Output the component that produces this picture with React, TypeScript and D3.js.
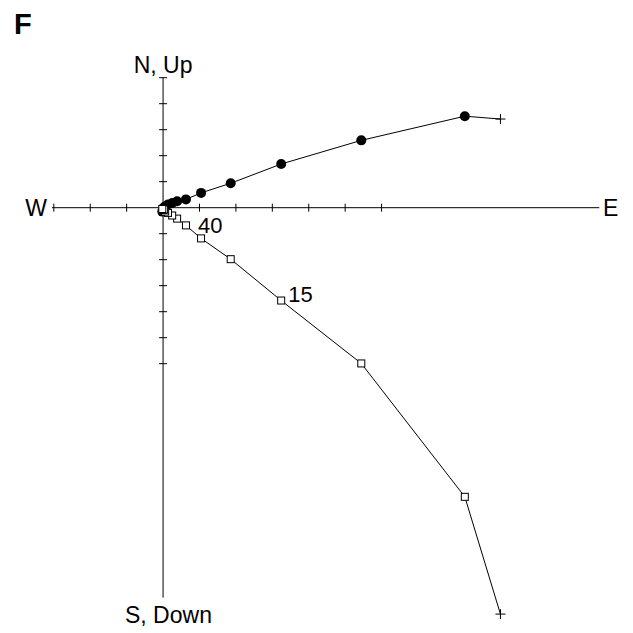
import React from "react";
import * as d3 from "d3";

// Demagnetization steps (arbitrary intensity units), first = NRM
const east = [12.97, 11.6, 7.62, 4.54, 2.6, 1.46, 0.88, 0.54, 0.35, 0.19, 0.08, 0.02, 0.04, -0.03];
const north = [3.41, 3.52, 2.59, 1.68, 0.94, 0.57, 0.32, 0.25, 0.18, 0.12, 0.05, 0.0, -0.1, -0.15];
const up = [-15.63, -11.12, -5.99, -3.57, -1.98, -1.18, -0.68, -0.42, -0.3, -0.2, -0.15, -0.09, -0.07, -0.05];
const stepLabels = [
  { index: 3, text: "15" },
  { index: 6, text: "40" },
];
const xTicks = [-4.2, -2.8, -1.4, 1.4, 2.8, 4.2, 5.6, 7.0, 8.4];
const yTicks = [5, 4, 3, 2, 1, -1, -2, -3, -4, -5, -6];
const xExtent = [-4.27, 16.77];
const yExtent = [5, -15];

export default function App() {
  const x = d3.scaleLinear().domain(xExtent).range([52, 599.3]);
  const y = d3.scaleLinear().domain(yExtent).range([77.7, 597.7]);
  const x0 = x(0);
  const y0 = y(0);
  const font = "'Liberation Sans', Arial, Helvetica, sans-serif";

  const hPts: [number, number][] = east.map((e, i) => [x(e), y(north[i])]);
  const vPts: [number, number][] = east.map((e, i) => [x(e), y(up[i])]);
  const line = d3.line();
  const cross = (p: [number, number], k: string) => (
    <path
      key={k}
      d={`M${p[0] - 5},${p[1]}H${p[0] + 5}M${p[0]},${p[1] - 5}V${p[1] + 5}`}
      stroke="#000"
      strokeWidth={1}
      fill="none"
    />
  );

  const labelOffsets: Record<string, [number, number]> = {
    "15": [7, 1],
    "40": [12, 8],
  };

  return (
    <svg
      width={633}
      height={633}
      style={{ position: "absolute", left: 0, top: 0, background: "#fff" }}
      fontFamily={font}
    >
      <rect width={633} height={633} fill="#fff" />
      <text x={14} y={34} fontSize={29} fontWeight="bold">F</text>

      {/* axes */}
      <line x1={x(xExtent[0])} x2={x(xExtent[1])} y1={y0} y2={y0} stroke="#000" strokeWidth={1} />
      <line x1={x0} x2={x0} y1={y(yExtent[0])} y2={y(yExtent[1])} stroke="#000" strokeWidth={1} />
      {xTicks.map((t) => (
        <line key={"xt" + t} x1={x(t)} x2={x(t)} y1={y0 - 4} y2={y0 + 4} stroke="#000" strokeWidth={1} />
      ))}
      {yTicks.map((t) => (
        <line key={"yt" + t} x1={x0 - 4} x2={x0 + 4} y1={y(t)} y2={y(t)} stroke="#000" strokeWidth={1} />
      ))}

      <text x={x0} y={73} fontSize={23} textAnchor="middle">N, Up</text>
      <text x={125} y={623} fontSize={23}>S, Down</text>
      <text x={47} y={216} fontSize={23} textAnchor="end">W</text>
      <text x={603} y={216} fontSize={23}>E</text>

      {/* horizontal projection */}
      <path d={line(hPts) || ""} fill="none" stroke="#000" strokeWidth={1} />
      {cross(hPts[0], "hc")}
      {hPts.slice(1).map((p, i) => (
        <circle key={"c" + i} cx={p[0]} cy={p[1]} r={5} fill="#000" />
      ))}

      {/* vertical projection */}
      <path d={line(vPts) || ""} fill="none" stroke="#000" strokeWidth={1} />
      {cross(vPts[0], "vc")}
      {vPts.slice(1).map((p, i) => (
        <rect key={"s" + i} x={p[0] - 3.5} y={p[1] - 3.5} width={7} height={7} fill="#fff" stroke="#000" strokeWidth={1} />
      ))}

      {stepLabels.map((l) => (
        <text
          key={l.text}
          x={vPts[l.index][0] + labelOffsets[l.text][0]}
          y={vPts[l.index][1] + labelOffsets[l.text][1]}
          fontSize={22}
        >
          {l.text}
        </text>
      ))}
    </svg>
  );
}
